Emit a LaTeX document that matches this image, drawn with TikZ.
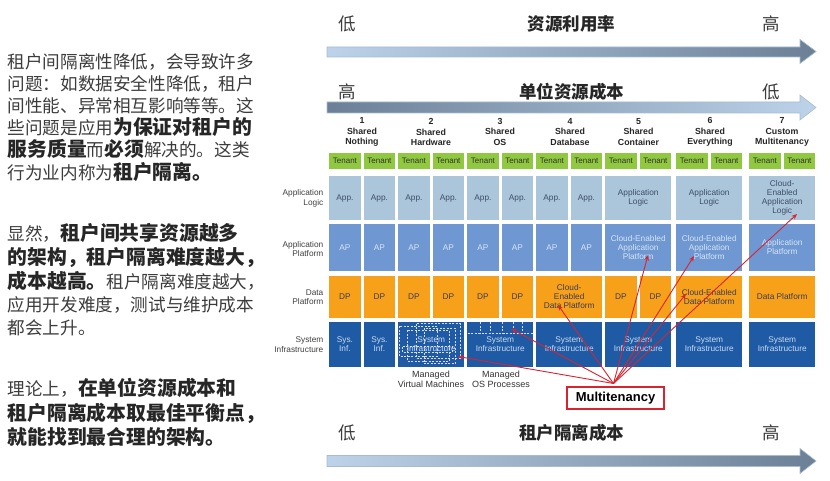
\documentclass[tikz,border=0pt]{standalone}
\usepackage{fontspec}
\setmainfont{Liberation Sans}
\newfontfamily\cjk{Noto Sans CJK SC}
\usetikzlibrary{arrows.meta}
\definecolor{tgreen}{HTML}{90C840}
\definecolor{appc}{HTML}{ABC5DB}
\definecolor{apc}{HTML}{6F98D2}
\definecolor{dpc}{HTML}{F7A11A}
\definecolor{sic}{HTML}{1F5BA5}
\definecolor{apptext}{HTML}{3D4F66}
\definecolor{aptext}{HTML}{D6E4F6}
\definecolor{dptext}{HTML}{3B3B55}
\definecolor{sitext}{HTML}{C8DAF0}
\definecolor{arrred}{HTML}{D9232E}
\definecolor{ntc}{HTML}{3C3C3C}
\definecolor{btc}{HTML}{262626}
\definecolor{arlight}{HTML}{BCD3EA}
\definecolor{ardark}{HTML}{6B8096}
\definecolor{arborder}{HTML}{A9BCCD}
\newcommand\ntx[1]{{\fontsize{17.6}{20}\selectfont\color{ntc}#1}}
\newcommand\btx[1]{{\fontsize{19.8}{22}\selectfont\bfseries\color{btc}#1}}
\tikzset{
  cellbase/.style={inner sep=0pt, align=center, anchor=north west, font=\fontsize{8.3}{9}\selectfont},
  half/.style={minimum width=31.5pt},
  full/.style={minimum width=66pt},
  tenant/.style={cellbase, half, fill=tgreen, minimum height=16pt, text=black!80, font=\fontsize{8}{9}\selectfont},
  appcell/.style={cellbase, fill=appc, text=apptext, minimum height=44pt},
  apcell/.style={cellbase, fill=apc, text=aptext, minimum height=47pt},
  dpcell/.style={cellbase, fill=dpc, text=dptext, minimum height=42pt},
  sicell/.style={cellbase, fill=sic, text=sitext, minimum height=45pt},
  hdr/.style={align=center, inner sep=0pt, font=\fontsize{8.8}{10.5}\selectfont\bfseries, text=black!85},
  rowlab/.style={align=right, anchor=east, inner sep=0pt, font=\fontsize{8.3}{9.5}\selectfont, text=black!75},
  mng/.style={align=center, inner sep=0pt, font=\fontsize{9}{10}\selectfont, text=black!80},
  mtbox/.style={draw=arrred, line width=1.4pt, fill=white, minimum width=97pt, minimum height=22pt, inner sep=0pt, font=\fontsize{13}{15}\selectfont\bfseries},
  redarr/.style={draw=arrred, line width=0.9pt, -{Stealth[length=5.5pt,width=4.5pt]}},
  vmdash/.style={draw=white!85!blue, dash pattern=on 2pt off 1.5pt, line width=0.5pt},
  bigarrow/.style={draw=arborder, line width=0.6pt},
  axlab/.style={inner sep=0pt, font=\cjk\fontsize{17.5}{20}\selectfont, text=ntc},
  axtitle/.style={inner sep=0pt, font=\cjk\fontsize{17.5}{20}\selectfont\bfseries, text=btc},
  para/.style={inner sep=0pt, anchor=base west, font=\cjk}
}
\begin{document}
\begin{tikzpicture}[x=1pt,y=-1pt]
\useasboundingbox (0,0) rectangle (830,481);
\fill[white] (0,0) rectangle (830,481);

% ---- big arrows ----
\shade[bigarrow, left color=arlight, right color=ardark]
  (327,47) -- (800,47) -- (800,39.5) -- (816,51.5) -- (800,63.5) -- (800,57) -- (327,57) -- cycle;
\shade[bigarrow, left color=ardark, right color=arlight]
  (327,102) -- (800,102) -- (800,95) -- (816,107.5) -- (800,120) -- (800,113) -- (327,113) -- cycle;
\shade[bigarrow, left color=arlight, right color=ardark]
  (327,455.5) -- (800,455.5) -- (800,448.5) -- (816,461) -- (800,473.5) -- (800,466.5) -- (327,466.5) -- cycle;

\node[axlab] (a1l) at (347,23.5) {低};
\node[axtitle] (a1t) at (571.5,23.5) {资源利用率};
\node[axlab] (a1r) at (771.5,23.5) {高};
\node[axlab] (a2l) at (347,92) {高};
\node[axtitle] (a2t) at (571.5,92) {单位资源成本};
\node[axlab] (a2r) at (771.5,92) {低};
\node[axlab] (a3l) at (347,433) {低};
\node[axtitle] (a3t) at (571.5,433) {租户隔离成本};
\node[axlab] (a3r) at (771.5,433) {高};

% ---- left text ----
\node[para] (p1a) at (7.5,68.5) {\ntx{租户间隔离性降低，会导致许多}};
\node[para] (p1b) at (7.5,90.5) {\ntx{问题：如数据安全性降低，租户}};
\node[para] (p1c) at (7.5,112.5) {\ntx{间性能、异常相互影响等等。这}};
\node[para] (p1d) at (7.5,134.5) {\ntx{些问题是应用}\btx{为保证对租户的}};
\node[para] (p1e) at (7.5,157) {\btx{服务质量}\ntx{而}\btx{必须}\ntx{解决的。这类}};
\node[para] (p1f) at (7.5,179.5) {\ntx{行为业内称为}\btx{租户隔离。}};

\node[para] (p2a) at (7.5,240.5) {\ntx{显然，}\btx{租户间共享资源越多}};
\node[para] (p2b) at (7.5,264.5) {\btx{的架构，租户隔离难度越大，}};
\node[para] (p2c) at (7.5,288) {\btx{成本越高。}\ntx{租户隔离难度越大，}};
\node[para] (p2d) at (7.5,311) {\ntx{应用开发难度，测试与维护成本}};
\node[para] (p2e) at (7.5,334) {\ntx{都会上升。}};

\node[para] (p3a) at (7.5,395.5) {\ntx{理论上，}\btx{在单位资源成本和}};
\node[para] (p3b) at (7.5,420) {\btx{租户隔离成本取最佳平衡点，}};
\node[para] (p3c) at (7.5,444) {\btx{就能找到最合理的架构。}};

% ---- headers ----
\node[hdr] (h1) at (362,132) {1\\Shared\\Nothing};
\node[hdr] (h2) at (431,132) {2\\Shared\\Hardware};
\node[hdr] (h3) at (500,131.5) {3\\Shared\\OS};
\node[hdr] (h4) at (570,132) {4\\Shared\\Database};
\node[hdr] (h5) at (638.5,132) {5\\Shared\\Container};
\node[hdr] (h6) at (710,132) {6\\Shared\\Everything};
\node[hdr] (h7) at (782,132) {7\\Custom\\Multitenancy};

% ---- row labels ----
\node[rowlab] (l1) at (323.5,198.5) {Application\\Logic};
\node[rowlab] (l2) at (323.5,249) {Application\\Platform};
\node[rowlab] (l3) at (323.5,297) {Data\\Platform};
\node[rowlab] (l4) at (323.5,344.5) {System\\Infrastructure};

% ---- tenant row ----
\foreach \g/\x in {1/329,2/398,3/467,4/536,5/605,6/676,7/749}{
  \node[tenant] (ten\g a) at (\x,153) {Tenant};
  \node[tenant] (ten\g b) at (\x+34.5,153) {Tenant};
}

% ---- application logic row ----
\foreach \g/\x in {1/329,2/398,3/467,4/536}{
  \node[appcell, half] (app\g a) at (\x,176) {App.};
  \node[appcell, half] (app\g b) at (\x+34.5,176) {App.};
}
\node[appcell, full] (app5) at (605,176) {Application\\Logic};
\node[appcell, full] (app6) at (676,176) {Application\\Logic};
\node[appcell, full] (app7) at (749,176) {Cloud-\\Enabled\\Application\\Logic};

% ---- application platform row ----
\foreach \g/\x in {1/329,2/398,3/467,4/536}{
  \node[apcell, half] (ap\g a) at (\x,223.5) {AP};
  \node[apcell, half] (ap\g b) at (\x+34.5,223.5) {AP};
}
\node[apcell, full] (ap5) at (605,223.5) {Cloud-Enabled\\Application\\Platform};
\node[apcell, full] (ap6) at (676,223.5) {Cloud-Enabled\\Application\\Platform};
\node[apcell, full] (ap7) at (749,223.5) {Application\\Platform};

% ---- data platform row ----
\foreach \g/\x in {1/329,2/398,3/467,5/605}{
  \node[dpcell, half] (dp\g a) at (\x,275.5) {DP};
  \node[dpcell, half] (dp\g b) at (\x+34.5,275.5) {DP};
}
\node[dpcell, full] (dp4) at (536,275.5) {Cloud-\\Enabled\\Data Platform};
\node[dpcell, full] (dp6) at (676,275.5) {Cloud-Enabled\\Data Platform};
\node[dpcell, full] (dp7) at (749,275.5) {Data Platform};

% ---- system infrastructure row ----
\node[sicell, half] (si1a) at (329,321.5) {Sys.\\Inf.};
\node[sicell, half] (si1b) at (363.5,321.5) {Sys.\\Inf.};
\foreach \g/\x in {2/398,3/467,4/536,5/605,6/676,7/749}{
  \node[sicell, full] (si\g) at (\x,321.5) {System\\Infrastructure};
}

% managed VM dashed boxes
\draw[vmdash] (399,326) rectangle (437,356);
\draw[vmdash] (407,330) rectangle (449,361);
\draw[vmdash] (416,323.5) rectangle (460,358);
\draw[vmdash] (424,328) rectangle (455,363.5);
\draw[vmdash] (402,346.5) rectangle (452,352);
% managed OS processes dashed lines
\draw[vmdash] (467.5,333.3) -- (532.5,333.3);
\foreach \vx in {480,490,502,513.5,522.5}{
  \draw[vmdash] (\vx,322) -- (\vx,333.3);
}

\node[mng] (mvm) at (431,379) {Managed\\Virtual Machines};
\node[mng] (mos) at (501,379) {Managed\\OS Processes};

% ---- multitenancy ----
\node[mtbox] (mt) at (615.5,398) {Multitenancy};
\coordinate (src) at (613.5,383.5);
\coordinate (t1) at (458,356.5);
\coordinate (t2) at (511.5,329);
\coordinate (t3) at (558,305);
\coordinate (t4) at (648,255);
\coordinate (t5) at (694,256);
\coordinate (t6) at (686,294);
\coordinate (t7) at (797,214);
\foreach \t in {t1,t2,t3,t4,t5,t6,t7}{
  \draw[redarr] (src) -- (\t);
}
\end{tikzpicture}
\end{document}
